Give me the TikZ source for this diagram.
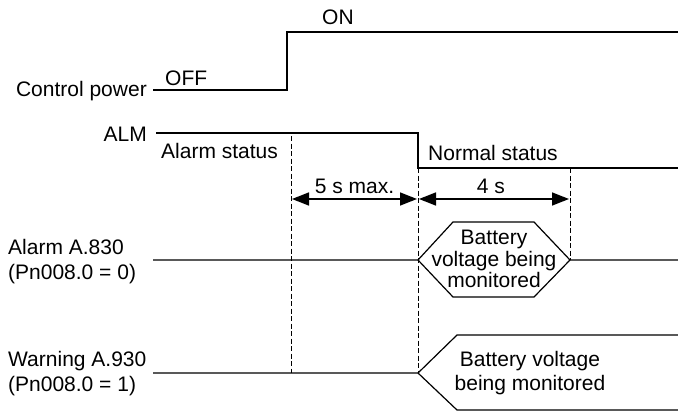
\documentclass[tikz,border=0pt]{standalone}
\usepackage{fontspec}
\setmainfont{Liberation Sans}
\usetikzlibrary{arrows.meta, positioning}

\begin{document}
\begin{tikzpicture}[
        x=1pt, y=-1pt,
        signal/.style={line width=1.2pt},
        guide/.style={line width=1pt, dash pattern=on 5pt off 2.5pt},
        txt/.style={inner sep=0pt, font=\fontsize{21}{25}\selectfont},
        hextxt/.style={inner sep=0pt, align=center, font=\fontsize{21}{21.5}\selectfont},
        span/.style={line width=1.5pt, {Triangle[length=17pt,width=13pt]}-{Triangle[length=17pt,width=13pt]}}
    ]

    \useasboundingbox (0,0) rectangle (678,412);

    % Control power
    \coordinate (cpA) at (153,90);
    \coordinate (cpB) at (287,90);
    \coordinate (cpC) at (287,32);
    \coordinate (cpD) at (678,32);
    \draw [signal] (cpA) -- (cpB) -- (cpC) -- (cpD);
    \node [txt, anchor=base east] (cplbl) at (147,96.5) {Control power};
    \node [txt, anchor=base west] (off) at (165,86) {OFF};
    \node [txt, anchor=base west] (on) at (322,25) {ON};

    % ALM
    \coordinate (almA) at (156,133);
    \coordinate (almB) at (418,133);
    \coordinate (almC) at (418,168);
    \coordinate (almD) at (678,168);
    \draw [signal] (almA) -- (almB) -- (almC) -- (almD);
    \node [txt, anchor=base east] (almlbl) at (147,142) {ALM};
    \node [txt, anchor=base west] (alarmst) at (161,158) {Alarm status};
    \node [txt, anchor=base west] (normalst) at (428,160) {Normal status};

    % Dashed guides
    \coordinate (g1top) at (291,136);
    \coordinate (g1bot) at (291,373);
    \coordinate (g2bot) at (418,373);
    \coordinate (g3top) at (570,168);
    \coordinate (g3bot) at (570,260);
    \draw [guide] (g1top) -- (g1bot);
    \draw [guide] (almC) -- (g2bot);
    \draw [guide] (g3top) -- (g3bot);

    % Time spans
    \coordinate (s1L) at (292,199);
    \coordinate (s1R) at (417,199);
    \coordinate (s2L) at (419,199);
    \coordinate (s2R) at (569,199);
    \draw [span] (s1L) -- (s1R);
    \draw [span] (s2L) -- (s2R);
    \node [txt, anchor=base] (t5) at (354.5,193) {5 s max.};
    \node [txt, anchor=base] (t4) at (491,193) {4 s};

    % Alarm A.830
    \coordinate (alA) at (153,260);
    \coordinate (alB) at (418,260);
    \coordinate (hexTL) at (453,222);
    \coordinate (hexTR) at (534,222);
    \coordinate (hexBL) at (453,297);
    \coordinate (hexBR) at (534,297);
    \coordinate (alD) at (678,260);
    \draw [signal] (alA) -- (alB) -- (hexTL) -- (hexTR) -- (g3bot) -- (alD);
    \draw [signal] (alB) -- (hexBL) -- (hexBR) -- (g3bot);
    \node [hextxt] (almon) at (494,259) {Battery\\voltage being\\monitored};
    \node [txt, anchor=west, align=left] (a830) at (8,262) {Alarm A.830\\(Pn008.0 = 0)};

    % Warning A.930
    \coordinate (wnA) at (153,373);
    \coordinate (wnUp) at (457,335);
    \coordinate (wnUpEnd) at (678,335);
    \coordinate (wnDn) at (457,410);
    \coordinate (wnDnEnd) at (678,410);
    \draw [signal] (wnA) -- (g2bot) -- (wnUp) -- (wnUpEnd);
    \draw [signal] (g2bot) -- (wnDn) -- (wnDnEnd);
    \node [txt, align=center, font=\fontsize{21}{23.5}\selectfont] (wnmon) at (530,373) {Battery voltage\\being monitored};
    \node [txt, anchor=west, align=left] (a930) at (8,374) {Warning A.930\\(Pn008.0 = 1)};

\end{tikzpicture}
\end{document}
